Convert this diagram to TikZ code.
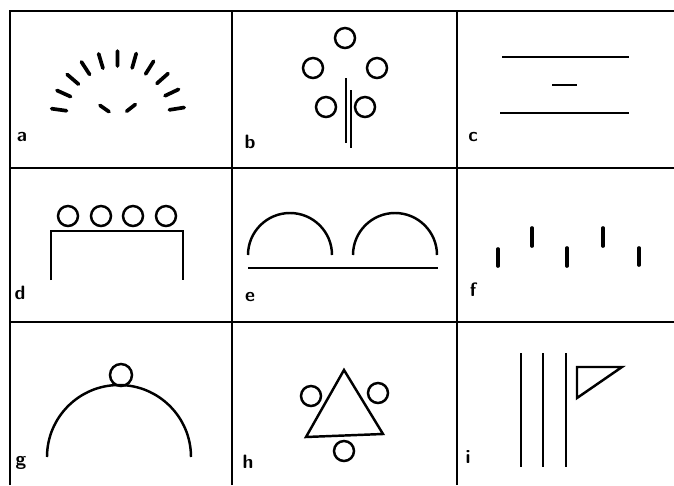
\documentclass[tikz,border=0pt]{standalone}
\usetikzlibrary{positioning}

\begin{document}
\begin{tikzpicture}[
    x=0.02cm, y=0.02cm,
    font=\sffamily\bfseries\fontsize{11}{13}\selectfont,
    gridline/.style={line width=1.7pt},
    figline/.style={line width=1.4pt},
    tickmark/.style={line width=2.1pt, line cap=round},
    ring/.style={line width=1.4pt},
    cellLabel/.style={inner sep=0pt, anchor=center}
]
\useasboundingbox (0,0) rectangle (674,485);

% Grid
\draw[gridline] (10,0) -- (10,474) -- (674,474);
\draw[gridline] (10,317) -- (674,317);
\draw[gridline] (10,163) -- (674,163);
\draw[gridline] (232,0) -- (232,474);
\draw[gridline] (457,0) -- (457,474);

% Labels
\foreach \n/\x/\y in {a/22/348, b/250/343, c/473/348,
                      d/20/192, e/250/188, f/473/195,
                      g/21/22, h/248/23, i/468/28}
    \node[cellLabel] (lab\n) at (\x,\y) {\n};

% a
\foreach \ang in {172,155.7,139.4,123.1,106.8,90.5,74.2,57.9,41.6,25.3,9}
    \draw[tickmark] (118,367) ++(\ang:52) -- ++(\ang:15);
\draw[tickmark] (118,367) ++(145:11) -- ++(145:11);
\draw[tickmark] (118,367) ++(38:11) -- ++(38:11);

% b
\foreach \x/\y in {345/447, 313/417, 377/417, 326/378, 365/378}
    \draw[ring] (\x,\y) circle[radius=10];
\draw[figline] (346,407) -- (346,342);
\draw[figline] (351,395) -- (351,337);

% c
\draw[figline] (502,428) -- (629,428);
\draw[figline] (552,400) -- (577,400);
\draw[figline] (500,372) -- (629,372);

% d
\foreach \x in {68,101,133,166}
    \draw[ring] (\x,269) circle[radius=10];
\draw[figline] (51,205) -- (51,254) -- (183,254) -- (183,205);

% e
\draw[figline] (248,230) arc[start angle=180, end angle=0, radius=42];
\draw[figline] (353,230) arc[start angle=180, end angle=0, radius=42];
\draw[figline] (248,217) -- (438,217);

% f
\foreach \x/\ya/\yb in {498/219/236, 532/239/257, 567/219/237, 603/239/257, 639/220/237}
    \draw[tickmark] (\x,\ya) -- (\x,\yb);

% g
\draw[ring] (121,110) circle[radius=11];
\draw[figline] (47,28) arc[start angle=180, end angle=0, radius=72];

% h
\draw[figline] (344,115) -- (306,48) -- (383,51) -- cycle;
\foreach \x/\y in {311/89, 378/92, 344/34}
    \draw[ring] (\x,\y) circle[radius=10];

% i
\foreach \x in {521,543,566}
    \draw[figline] (\x,132) -- (\x,18);
\draw[figline] (577,118) -- (622,118) -- (577,87) -- cycle;

\end{tikzpicture}
\end{document}
